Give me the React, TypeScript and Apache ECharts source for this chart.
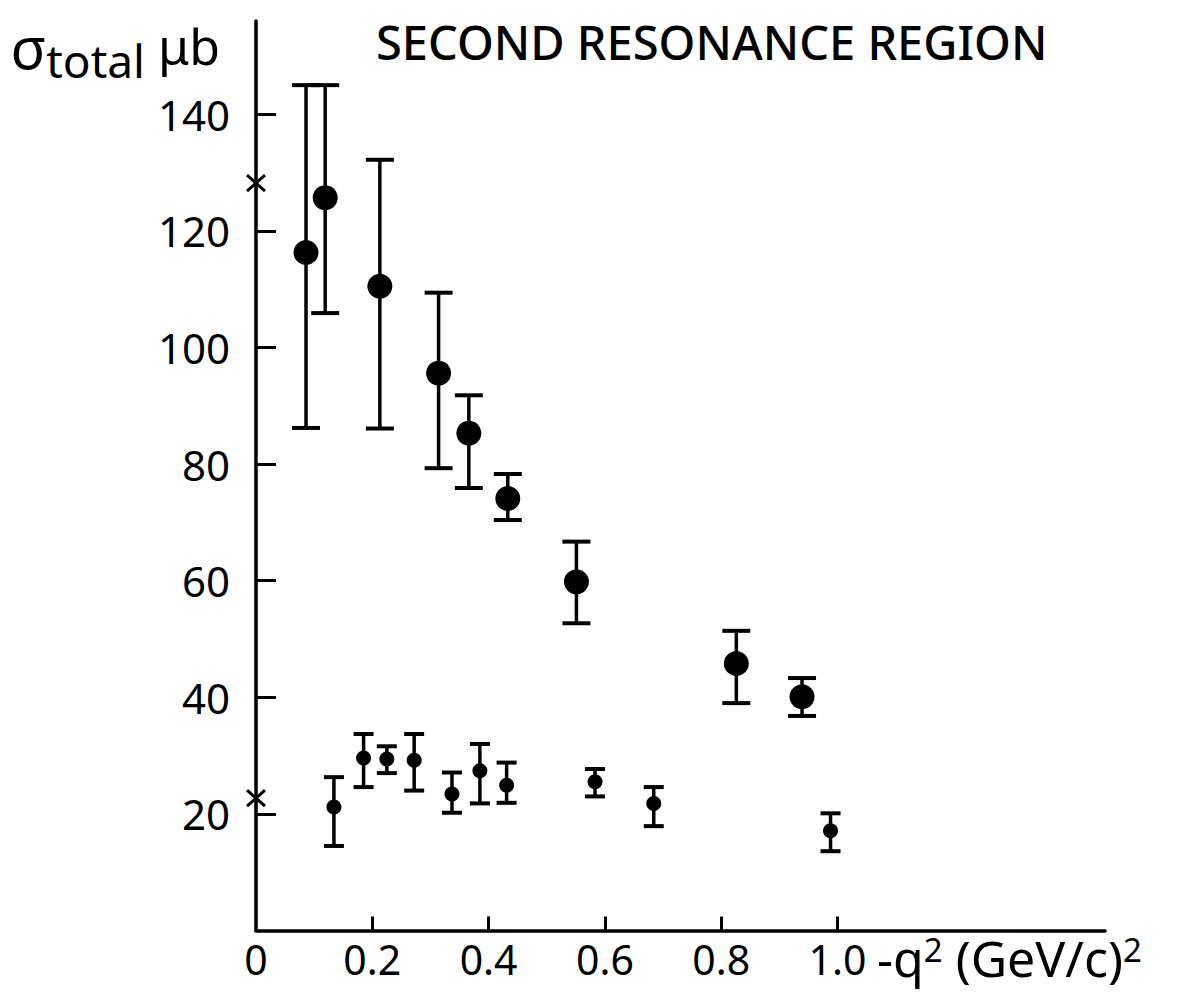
import React, { useEffect, useRef } from "react";
import * as echarts from "echarts";

// Large points (upper data set)
const bigX = [0.086, 0.119, 0.213, 0.314, 0.366, 0.433, 0.551, 0.826, 0.939];
const bigY = [116.3, 125.7, 110.5, 95.6, 85.3, 74.1, 59.8, 45.8, 40.1];
const bigHigh = [145.0, 145.0, 132.2, 109.4, 91.8, 78.3, 66.7, 51.4, 43.3];
const bigLow = [86.2, 105.9, 86.1, 79.3, 75.9, 70.4, 52.7, 39.0, 36.8];

// Small points (lower data set)
const smallX = [0.134, 0.185, 0.225, 0.272, 0.337, 0.385, 0.431, 0.583, 0.684, 0.988];
const smallY = [21.2, 29.6, 29.4, 29.2, 23.4, 27.4, 24.9, 25.5, 21.8, 17.1];
const smallHigh = [26.3, 33.7, 31.6, 33.7, 27.1, 32.0, 28.8, 27.7, 24.6, 20.1];
const smallLow = [14.5, 24.6, 27.0, 24.0, 20.2, 21.8, 21.9, 23.0, 17.9, 13.6];

// Cross marks on the y axis (q^2 = 0)
const crossX = [0, 0];
const crossY = [128.2, 22.7];

const xTicks = [0.2, 0.4, 0.6, 0.8, 1.0];
const xLabels = [0, 0.2, 0.4, 0.6, 0.8, 1.0];
const yTicks = [20, 40, 60, 80, 100, 120, 140];

const FONT = '"Noto Sans", "Open Sans", sans-serif';

function errorBars(xs: number[], lows: number[], highs: number[], capHalf: number) {
  return {
    type: "custom",
    silent: true,
    data: xs.map((x, i) => [x, lows[i], highs[i]]),
    encode: { x: 0, y: [1, 2] },
    renderItem: (params: any, api: any) => {
      const lo = api.coord([api.value(0), api.value(1)]);
      const hi = api.coord([api.value(0), api.value(2)]);
      const style = { stroke: "#000", lineWidth: 3.5 };
      const cap = { stroke: "#000", lineWidth: 4 };
      return {
        type: "group",
        children: [
          { type: "line", shape: { x1: lo[0], y1: lo[1], x2: hi[0], y2: hi[1] }, style },
          { type: "line", shape: { x1: hi[0] - capHalf, y1: hi[1], x2: hi[0] + capHalf, y2: hi[1] }, style: cap },
          { type: "line", shape: { x1: lo[0] - capHalf, y1: lo[1], x2: lo[0] + capHalf, y2: lo[1] }, style: cap },
        ],
      };
    },
  };
}

export default function App() {
  const ref = useRef<HTMLDivElement>(null);
  useEffect(() => {
    if (!ref.current) return;
    const chart = echarts.init(ref.current, undefined, { renderer: "svg" });
    chart.setOption({
      animation: false,
      backgroundColor: "#fff",
      title: {
        text: "SECOND RESONANCE REGION",
        left: 376,
        top: 18,
        padding: 0,
        textStyle: { fontFamily: FONT, fontSize: 47, fontWeight: 500, color: "#000" },
      },
      grid: { left: 256, right: 72, top: 21, bottom: 63.5 },
      xAxis: {
        type: "value",
        min: 0,
        max: 1.46,
        interval: 0.2,
        splitLine: { show: false },
        axisLine: { lineStyle: { color: "#000", width: 3.5 } },
        axisTick: { inside: true, length: 14, customValues: xTicks, lineStyle: { color: "#000", width: 3 } },
        axisLabel: {
          customValues: xLabels,
          margin: 8,
          fontFamily: FONT,
          fontSize: 41,
          color: "#000",
          formatter: (v: number) => (v === 0 ? "0" : v.toFixed(1)),
        },
        name: "{m|-q}{s|2}{m| (GeV/c)}{s|2}",
        nameLocation: "end",
        nameGap: -228,
        nameTextStyle: {
          align: "left",
          verticalAlign: "top",
          padding: [2, 0, 0, 0],
          rich: {
            m: { fontFamily: FONT, fontSize: 50, color: "#000", verticalAlign: "bottom" },
            s: { fontFamily: FONT, fontSize: 33, color: "#000", verticalAlign: "top" },
          },
        },
      },
      yAxis: {
        type: "value",
        min: 0,
        max: 156,
        interval: 20,
        splitLine: { show: false },
        axisLine: { lineStyle: { color: "#000", width: 3.5 } },
        axisTick: { inside: true, length: 20, customValues: yTicks, lineStyle: { color: "#000", width: 3 } },
        axisLabel: { customValues: yTicks, margin: 26, fontFamily: FONT, fontSize: 42, color: "#000" },
        name: "{g|σ}{t|total}{u| μb}",
        nameLocation: "end",
        nameGap: -29,
        nameTextStyle: {
          align: "right",
          verticalAlign: "middle",
          padding: [0, 36, 0, 0],
          rich: {
            g: { fontFamily: FONT, fontSize: 58, color: "#000", verticalAlign: "top" },
            t: { fontFamily: FONT, fontSize: 46, color: "#000", verticalAlign: "bottom", padding: [20, 0, 0, 0] },
            u: { fontFamily: FONT, fontSize: 50, color: "#000", verticalAlign: "top", padding: [4, 0, 0, 0] },
          },
        },
      },
      series: [
        errorBars(bigX, bigLow, bigHigh, 14),
        errorBars(smallX, smallLow, smallHigh, 10),
        {
          type: "scatter",
          data: bigX.map((x, i) => [x, bigY[i]]),
          symbol: "circle",
          symbolSize: 25,
          itemStyle: { color: "#000", opacity: 1 },
          z: 3,
        },
        {
          type: "scatter",
          data: smallX.map((x, i) => [x, smallY[i]]),
          symbol: "circle",
          symbolSize: 15,
          itemStyle: { color: "#000", opacity: 1 },
          z: 3,
        },
        {
          type: "custom",
          silent: true,
          data: crossX.map((x, i) => [x, crossY[i]]),
          renderItem: (params: any, api: any) => {
            const c = api.coord([api.value(0), api.value(1)]);
            const style = { stroke: "#000", lineWidth: 3 };
            return {
              type: "group",
              children: [
                { type: "line", shape: { x1: c[0] - 9, y1: c[1] - 8, x2: c[0] + 9, y2: c[1] + 8 }, style },
                { type: "line", shape: { x1: c[0] - 9, y1: c[1] + 8, x2: c[0] + 9, y2: c[1] - 8 }, style },
              ],
            };
          },
          z: 4,
        },
      ],
    });
    return () => chart.dispose();
  }, []);
  return (
    <div
      ref={ref}
      style={{ position: "fixed", left: 0, top: 0, width: 1177, height: 994, background: "#fff" }}
    />
  );
}
